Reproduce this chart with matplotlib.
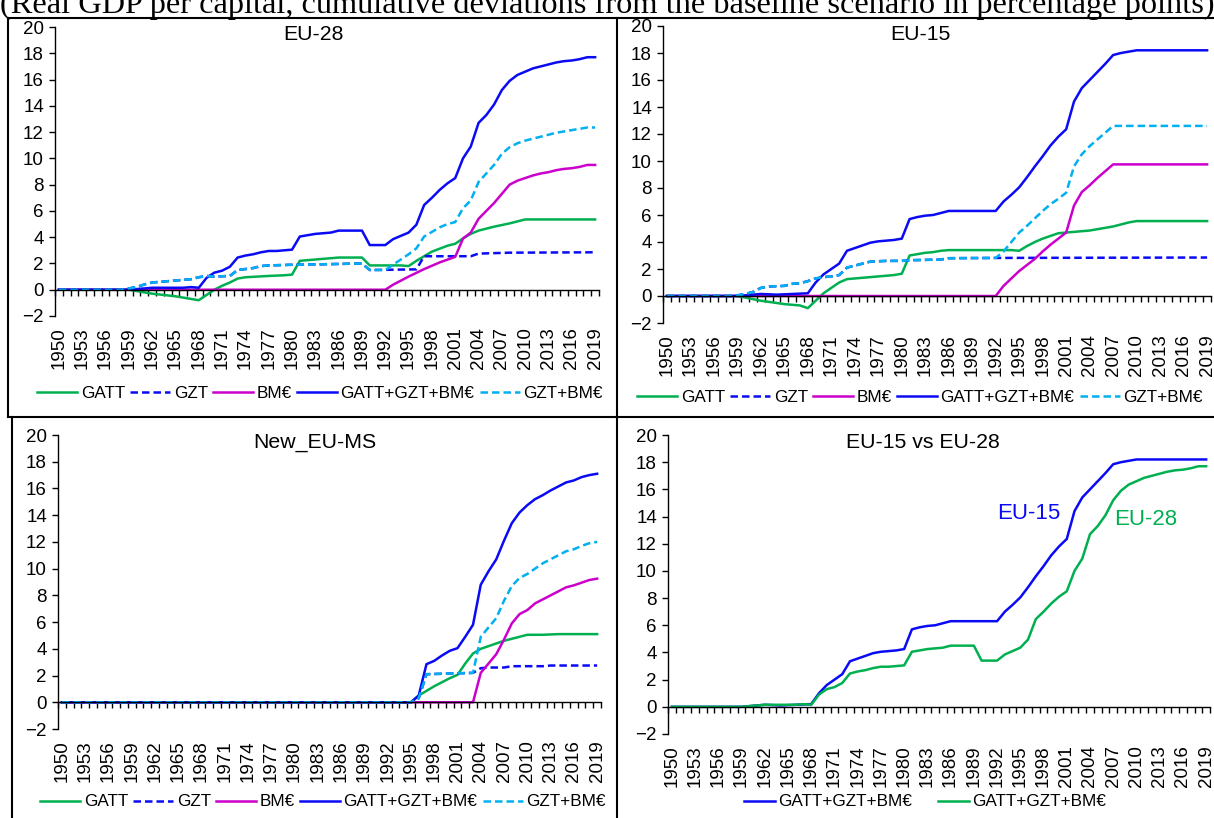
import numpy as np
import matplotlib
matplotlib.use("Agg")
import matplotlib.pyplot as plt
from matplotlib.lines import Line2D

plt.rcParams['font.family'] = 'Liberation Sans'

W, H = 1214, 818

YEARS = list(range(1950, 2020))
YEAR_LABELS = [str(y) for y in YEARS[::3]]

# ---- EU-28 ----
EU28_GATT_YR = [1950, 1959, 1962, 1965, 1968, 1970, 1971, 1972, 1973, 1974, 1977, 1979, 1980, 1981, 1983,
                1986, 1989, 1990, 1994, 1995, 1996, 1997, 1998, 2000, 2001, 2002, 2003, 2004, 2006, 2008,
                2010, 2019]
EU28_GATT = [0, 0, -0.3, -0.5, -0.8, 0, 0.3, 0.55, 0.85, 0.95, 1.05, 1.1, 1.15, 2.2, 2.3,
             2.45, 2.45, 1.85, 1.85, 1.8, 2.2, 2.55, 2.9, 3.35, 3.5, 3.9, 4.25, 4.5, 4.8, 5.05,
             5.35, 5.35]
EU28_GZT_YR = [1950, 1958, 1959, 1960, 1961, 1962, 1964, 1966, 1967, 1968, 1969, 1970, 1972, 1973, 1975,
               1976, 1977, 1980, 1985, 1989, 1990, 1996, 1997, 2003, 2004, 2008, 2019]
EU28_GZT = [0, 0, 0.1, 0.2, 0.4, 0.55, 0.65, 0.75, 0.8, 0.95, 1.05, 1.0, 1.05, 1.5, 1.65,
            1.8, 1.85, 1.9, 1.95, 2.0, 1.5, 1.55, 2.55, 2.55, 2.75, 2.82, 2.85]
EU28_BME_YR = [1950, 1992, 1993, 1995, 1997, 1999, 2001, 2002, 2003, 2004, 2005, 2006, 2007, 2008, 2009,
               2010, 2011, 2012, 2013, 2014, 2015, 2016, 2017, 2018, 2019]
EU28_BME = [0, 0, 0.38, 1.0, 1.57, 2.08, 2.5, 3.9, 4.35, 5.4, 6.0, 6.6, 7.3, 8.0, 8.3,
            8.5, 8.7, 8.85, 8.95, 9.1, 9.2, 9.25, 9.35, 9.5, 9.5]
EU28_ALL_YR = [1950, 1959, 1960, 1962, 1966, 1967, 1968, 1969, 1970, 1971, 1972, 1973, 1974, 1975, 1976,
               1977, 1978, 1979, 1980, 1981, 1982, 1983, 1984, 1985, 1986, 1989, 1990, 1992, 1993, 1994,
               1995, 1996, 1997, 1998, 1999, 2000, 2001, 2002, 2003, 2004, 2005, 2006, 2007, 2008, 2009,
               2010, 2011, 2012, 2013, 2014, 2015, 2016, 2017, 2018, 2019]
EU28_ALL = [0, 0, 0.05, 0.15, 0.15, 0.2, 0.15, 0.9, 1.3, 1.45, 1.75, 2.45, 2.6, 2.7, 2.85,
            2.95, 2.95, 3.0, 3.05, 4.05, 4.15, 4.25, 4.3, 4.35, 4.5, 4.5, 3.4, 3.4, 3.85, 4.1,
            4.35, 4.95, 6.45, 7.0, 7.6, 8.1, 8.5, 10.0, 10.9, 12.7, 13.3, 14.1, 15.2, 15.9, 16.35,
            16.6, 16.85, 17.0, 17.15, 17.3, 17.4, 17.45, 17.55, 17.7, 17.7]
EU28_GZTBME_YR = [1950, 1958, 1959, 1960, 1961, 1962, 1964, 1966, 1967, 1968, 1969, 1970, 1972, 1973, 1975,
                  1976, 1977, 1980, 1985, 1989, 1990, 1992, 1993, 1994, 1995, 1996, 1997, 1998, 1999, 2000,
                  2001, 2002, 2003, 2004, 2005, 2006, 2007, 2008, 2009, 2010, 2012, 2014, 2016, 2018, 2019]
EU28_GZTBME = [0, 0, 0.1, 0.2, 0.4, 0.55, 0.65, 0.75, 0.8, 0.95, 1.05, 1.0, 1.05, 1.5, 1.65,
               1.8, 1.85, 1.9, 1.95, 2.0, 1.5, 1.5, 1.9, 2.3, 2.7, 3.15, 4.05, 4.4, 4.75, 5.0,
               5.15, 6.2, 6.8, 8.2, 8.85, 9.5, 10.35, 10.85, 11.15, 11.35, 11.65, 11.95, 12.15, 12.35, 12.35]

# ---- EU-15 ----
EU15_GATT_YR = [1950, 1959, 1962, 1965, 1967, 1968, 1970, 1971, 1972, 1973, 1974, 1975, 1976, 1977, 1978,
                1979, 1980, 1981, 1982, 1983, 1984, 1985, 1986, 1994, 1995, 1996, 1997, 1998, 1999, 2000,
                2001, 2002, 2003, 2004, 2005, 2006, 2007, 2008, 2009, 2010, 2019]
EU15_GATT = [0, 0, -0.35, -0.6, -0.7, -0.9, 0.2, 0.6, 1.0, 1.25, 1.3, 1.35, 1.4, 1.45, 1.5,
             1.55, 1.65, 3.0, 3.1, 3.2, 3.25, 3.35, 3.4, 3.4, 3.35, 3.7, 4.0, 4.25, 4.45, 4.65,
             4.7, 4.75, 4.8, 4.85, 4.95, 5.05, 5.15, 5.3, 5.45, 5.55, 5.55]
EU15_GZT_YR = [1950, 1958, 1959, 1960, 1961, 1962, 1963, 1965, 1966, 1967, 1968, 1969, 1970, 1971, 1972,
               1973, 1974, 1975, 1976, 1978, 1980, 1981, 1985, 1986, 1992, 2019]
EU15_GZT = [0, 0, 0.05, 0.15, 0.3, 0.6, 0.7, 0.75, 0.9, 0.95, 1.1, 1.3, 1.4, 1.45, 1.55,
            2.1, 2.25, 2.4, 2.55, 2.6, 2.6, 2.65, 2.7, 2.8, 2.82, 2.85]
EU15_BME_YR = [1950, 1992, 1993, 1994, 1995, 1996, 1997, 1998, 1999, 2000, 2001, 2002, 2003, 2004, 2005,
               2006, 2007, 2019]
EU15_BME = [0, 0, 0.75, 1.3, 1.85, 2.3, 2.75, 3.3, 3.8, 4.25, 4.7, 6.7, 7.7, 8.2, 8.75,
            9.25, 9.75, 9.75]
EU15_ALL_YR = [1950, 1959, 1960, 1962, 1964, 1966, 1968, 1969, 1970, 1971, 1972, 1973, 1974, 1975, 1976,
               1977, 1978, 1979, 1980, 1981, 1982, 1983, 1984, 1985, 1986, 1992, 1993, 1994, 1995, 1996,
               1997, 1998, 1999, 2000, 2001, 2002, 2003, 2004, 2005, 2006, 2007, 2008, 2009, 2010, 2019]
EU15_ALL = [0, 0, 0.05, 0.15, 0.1, 0.15, 0.2, 1.0, 1.6, 2.0, 2.4, 3.35, 3.55, 3.75, 3.95,
            4.05, 4.1, 4.15, 4.25, 5.7, 5.85, 5.95, 6.0, 6.15, 6.3, 6.3, 7.0, 7.5, 8.05, 8.8,
            9.6, 10.35, 11.15, 11.8, 12.35, 14.4, 15.4, 16.0, 16.6, 17.2, 17.85, 18.0, 18.1, 18.2, 18.2]
EU15_GZTBME_YR = [1950, 1958, 1959, 1960, 1961, 1962, 1963, 1965, 1966, 1967, 1968, 1969, 1970, 1971, 1972,
                  1973, 1974, 1975, 1976, 1978, 1980, 1981, 1985, 1986, 1992, 1993, 1994, 1995, 1996, 1997,
                  1998, 1999, 2000, 2001, 2002, 2003, 2004, 2005, 2006, 2007, 2019]
EU15_GZTBME = [0, 0, 0.05, 0.15, 0.3, 0.6, 0.7, 0.75, 0.9, 0.95, 1.1, 1.3, 1.4, 1.45, 1.55,
               2.1, 2.25, 2.4, 2.55, 2.6, 2.6, 2.65, 2.7, 2.8, 2.82, 3.3, 4.0, 4.7, 5.2, 5.75,
               6.3, 6.8, 7.2, 7.65, 9.6, 10.5, 11.1, 11.6, 12.1, 12.6, 12.6]

# ---- New EU member states ----
NEW_GATT_YR = [1950, 1995, 1996, 1997, 1998, 1999, 2000, 2001, 2002, 2003, 2004, 2005, 2006, 2007, 2008,
               2009, 2010, 2012, 2014, 2019]
NEW_GATT = [0, 0, 0.5, 0.85, 1.2, 1.5, 1.8, 2.05, 2.9, 3.65, 4.0, 4.2, 4.4, 4.6, 4.75,
            4.9, 5.05, 5.05, 5.1, 5.1]
NEW_GZT_YR = [1950, 1995, 1996, 1997, 2003, 2004, 2005, 2007, 2008, 2012, 2013, 2019]
NEW_GZT = [0, 0, 0.3, 2.1, 2.2, 2.55, 2.6, 2.6, 2.7, 2.7, 2.75, 2.75]
NEW_BME_YR = [1950, 2003, 2004, 2005, 2006, 2007, 2008, 2009, 2010, 2011, 2012, 2013, 2014, 2015, 2016,
              2017, 2018, 2019]
NEW_BME = [0, 0, 2.2, 2.9, 3.6, 4.7, 5.9, 6.6, 6.9, 7.4, 7.7, 8.0, 8.3, 8.6, 8.75,
           8.95, 9.15, 9.25]
NEW_ALL_YR = [1950, 1995, 1996, 1997, 1998, 1999, 2000, 2001, 2002, 2003, 2004, 2005, 2006, 2007, 2008,
              2009, 2010, 2011, 2012, 2013, 2014, 2015, 2016, 2017, 2018, 2019]
NEW_ALL = [0, 0, 0.5, 2.85, 3.1, 3.5, 3.85, 4.05, 4.9, 5.8, 8.8, 9.8, 10.7, 12.1, 13.4,
           14.2, 14.75, 15.2, 15.5, 15.85, 16.15, 16.45, 16.6, 16.85, 17.0, 17.1]
NEW_GZTBME_YR = [1950, 1995, 1996, 1997, 2003, 2004, 2005, 2006, 2007, 2008, 2009, 2010, 2011, 2012, 2013,
                 2014, 2015, 2016, 2017, 2018, 2019]
NEW_GZTBME = [0, 0, 0.3, 2.1, 2.2, 4.9, 5.6, 6.3, 7.6, 8.7, 9.3, 9.6, 10.0, 10.4, 10.7,
              11.0, 11.3, 11.45, 11.7, 11.9, 12.0]

SERIES_NAMES = ["GATT", "GZT", "BM€", "GATT+GZT+BM€", "GZT+BM€"]
GREEN, BLUE, MAGENTA, LBLUE = "#00B050", "#0A0AF5", "#CC00CC", "#00B0F0"
STYLES = [(GREEN, "-"), (BLUE, (0, (3, 1.6))), (MAGENTA, "-"), (BLUE, "-"), (LBLUE, (0, (3, 1.6)))]
LW = 1.8
TICK_FS, LEG_FS, TITLE_FS = 13.5, 12.3, 15.3

fig = plt.figure(figsize=(W / 100, H / 100), dpi=100)


def px_axes(left, right, top, bottom):
    return fig.add_axes([left / W, 1 - bottom / H, (right - left) / W, (bottom - top) / H])


def setup(ax, height_px):
    ax.set_xlim(1949.5, 2019.5)
    ax.set_ylim(-2, 20)
    for s in ["top", "right"]:
        ax.spines[s].set_visible(False)
    ax.spines["bottom"].set_position(("data", 0))
    ax.spines["left"].set_linewidth(1.0)
    ax.spines["bottom"].set_linewidth(1.0)
    ax.set_yticks(range(-2, 21, 2))
    ax.tick_params(axis="y", direction="out", length=4, width=1, labelsize=TICK_FS, pad=4)
    ax.set_xticks(YEARS[::3])
    ax.set_xticklabels(YEAR_LABELS, rotation=90)
    ax.set_xticks(np.arange(1949.5, 2020, 1), minor=True)
    # labels sit below the -2 line, like Excel's "low" label position
    pad = (2 * height_px / 22 + 11) * 72 / 100
    ax.tick_params(axis="x", which="major", length=0, labelsize=TICK_FS, pad=pad)
    ax.tick_params(axis="x", which="minor", direction="out", length=4, width=1)


def fig_xy(x, y):
    return x / W, 1 - y / H


panels = [
    ("EU-28", (55, 599, 27, 316), (313, 35), (320, 393),
     [(EU28_GATT_YR, EU28_GATT), (EU28_GZT_YR, EU28_GZT), (EU28_BME_YR, EU28_BME),
      (EU28_ALL_YR, EU28_ALL), (EU28_GZTBME_YR, EU28_GZTBME)]),
    ("EU-15", (663, 1211, 26, 323), (920, 35), (920, 397),
     [(EU15_GATT_YR, EU15_GATT), (EU15_GZT_YR, EU15_GZT), (EU15_BME_YR, EU15_BME),
      (EU15_ALL_YR, EU15_ALL), (EU15_GZTBME_YR, EU15_GZTBME)]),
    ("New_EU-MS", (58, 601, 435, 729), (315, 442), (323, 802),
     [(NEW_GATT_YR, NEW_GATT), (NEW_GZT_YR, NEW_GZT), (NEW_BME_YR, NEW_BME),
      (NEW_ALL_YR, NEW_ALL), (NEW_GZTBME_YR, NEW_GZTBME)]),
]

for title, (l, r, t, b), tpos, lpos, data in panels:
    ax = px_axes(l, r, t, b)
    setup(ax, b - t)
    handles = []
    for (yr, vals), (col, ls), name in zip(data, STYLES, SERIES_NAMES):
        h, = ax.plot(yr, vals, color=col, linestyle=ls, linewidth=LW, label=name)
        handles.append(h)
    fig.text(*fig_xy(*tpos), title, ha="center", va="center", fontsize=TITLE_FS)
    fig.legend(handles=handles, loc="center", bbox_to_anchor=fig_xy(*lpos), ncol=5, frameon=False,
               fontsize=LEG_FS, handlelength=2.35, handletextpad=0.2, columnspacing=0.3, borderaxespad=0)

# EU-15 vs EU-28
ax = px_axes(668, 1210, 435, 734)
setup(ax, 734 - 435)
h1, = ax.plot(EU15_ALL_YR, EU15_ALL, color=BLUE, linewidth=LW, label="GATT+GZT+BM€")
h2, = ax.plot(EU28_ALL_YR, EU28_ALL, color=GREEN, linewidth=LW, label="GATT+GZT+BM€")
ax.text(1996.1, 14.2, "EU-15", color=BLUE, fontsize=16, ha="center", va="center")
ax.text(2011.2, 13.8, "EU-28", color=GREEN, fontsize=16, ha="center", va="center")
fig.text(*fig_xy(923, 442), "EU-15 vs EU-28", ha="center", va="center", fontsize=TITLE_FS)
fig.legend(handles=[h1, h2], loc="center", bbox_to_anchor=fig_xy(925, 802), ncol=2, frameon=False,
           fontsize=LEG_FS, handlelength=1.8, handletextpad=0.2, columnspacing=1.5, borderaxespad=0)

# table borders
for (x0, y0), (x1, y1) in [((8, 18), (1214, 18)), ((8, 18), (8, 416)), ((8, 416.5), (617, 416.5)),
                           ((617, 18), (617, 818)), ((12, 416.5), (12, 818)), ((617, 416.5), (1214, 416.5))]:
    fig.add_artist(Line2D([x0 / W, x1 / W], [1 - y0 / H, 1 - y1 / H], color="black", linewidth=1.5))

fig.text(0.0, 1 - 13 / H,
         "(Real GDP per capital, cumulative deviations from the baseline scenario in percentage points)",
         family="Liberation Serif", fontsize=23.3, ha="left", va="baseline")

fig.savefig("out.png", dpi=100)
